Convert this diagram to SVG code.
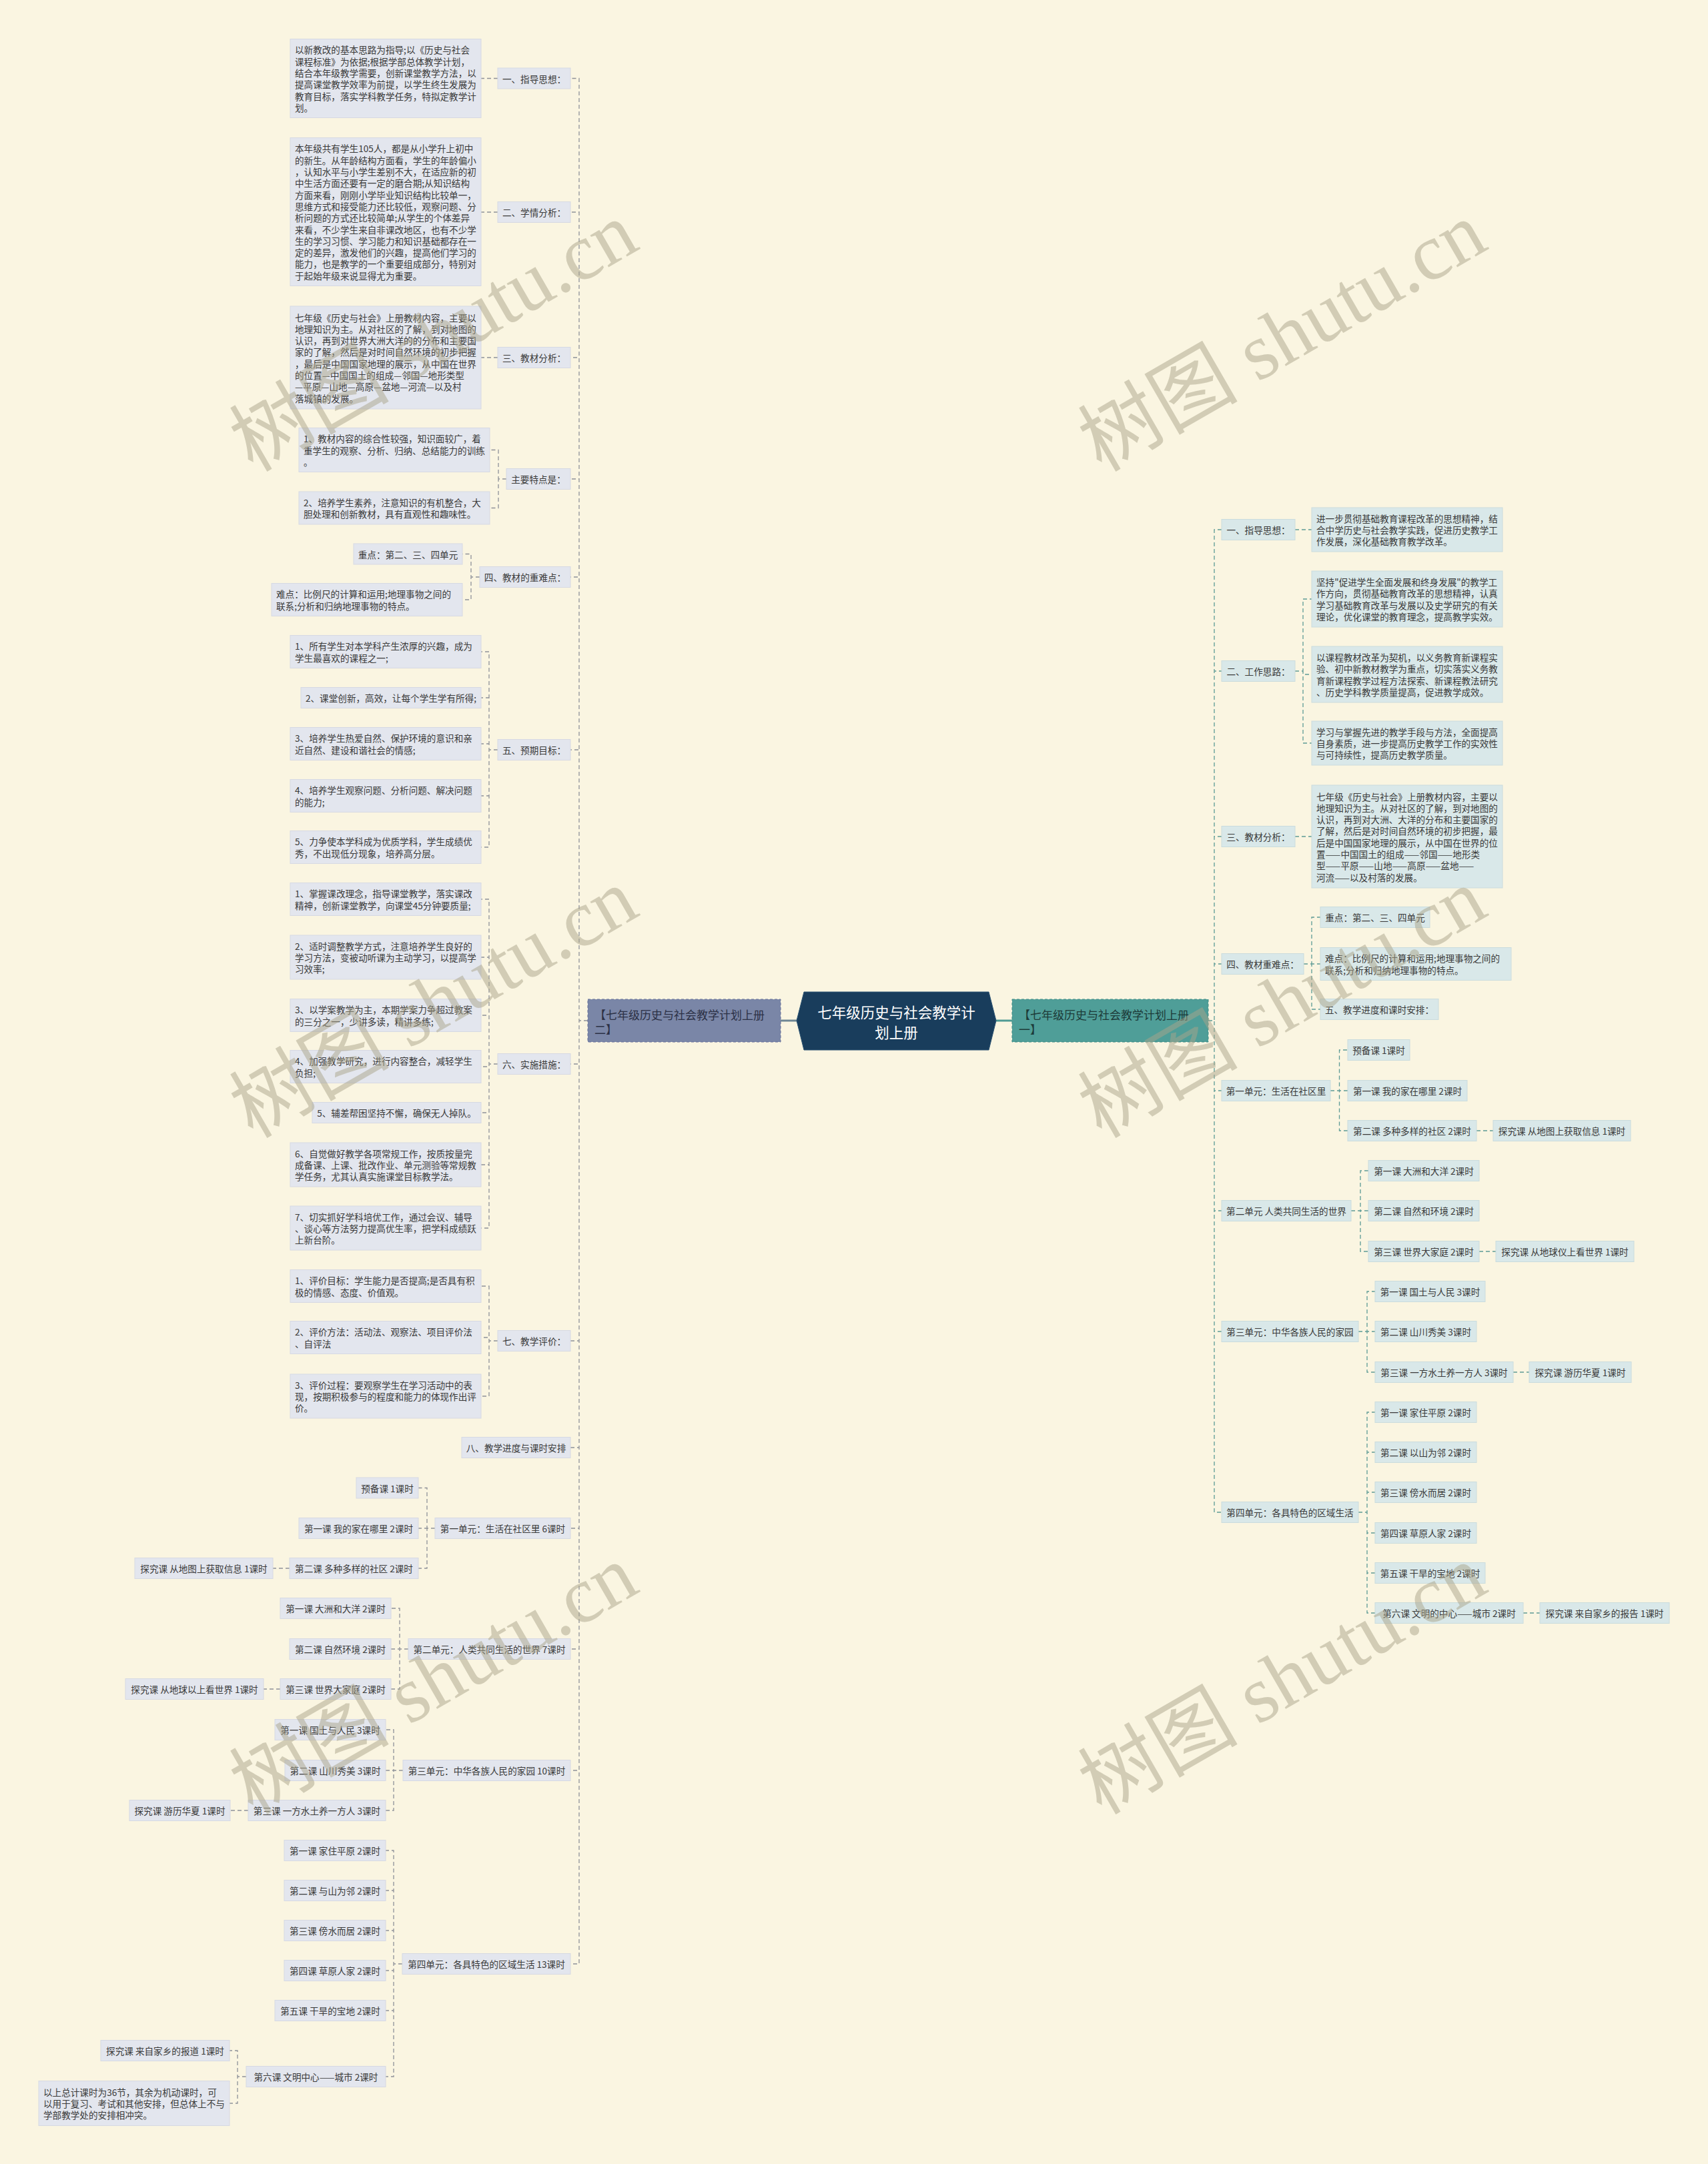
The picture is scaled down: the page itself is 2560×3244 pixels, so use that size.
<svg xmlns="http://www.w3.org/2000/svg" width="2560" height="3244" viewBox="0 0 2560 3244">
<style>
.lb{fill:#e3e6ee;stroke:#d6d9e3;stroke-width:1}
.rb{fill:#d9e8e9;stroke:#cadcdd;stroke-width:1}
.t{font-family:"Noto Sans CJK SC","Noto Sans",sans-serif;font-size:13.6px;fill:#3a3a3a;dominant-baseline:central}
.m{text-anchor:middle}
.lc{fill:none;stroke:#8f9199;stroke-width:1.3;stroke-dasharray:6 4}
.rc{fill:none;stroke:#5d9a95;stroke-width:1.3;stroke-dasharray:6 4}
.mt{font-family:"Noto Sans CJK SC","Noto Sans",sans-serif;font-size:17px;dominant-baseline:central}
.wm{font-family:"Liberation Serif","Noto Sans CJK SC",serif;font-size:120px;fill:#a9a48a;fill-opacity:0.5;text-anchor:middle;dominant-baseline:central}
</style>
<rect x="0" y="0" width="2560" height="3244" fill="#faf5e1"/>

<g id="connectors">
<path class="lc" d="M881,1530 H868 V117.5 H855 M881,1530 H868 V318 H855 M881,1530 H868 V536 H855 M881,1530 H868 V718 H855 M881,1530 H868 V865 H855 M881,1530 H868 V1124 H855 M881,1530 H868 V1595 H855 M881,1530 H868 V2010 H855 M881,1530 H868 V2170 H855 M881,1530 H868 V2291 H855 M881,1530 H868 V2472 H855 M881,1530 H868 V2654 H855 M881,1530 H868 V2944 H855"/>
<path class="lc" d="M746,117.5 H721 M746,318 H721 M746,536 H721"/>
<path class="lc" d="M759,718 H747 V674.5 H734 M759,718 H747 V761.5 H734"/>
<path class="lc" d="M719,865 H706 V830.5 H693 M719,865 H706 V899 H693"/>
<path class="lc" d="M746,1124 H733 V977 H721 M746,1124 H733 V1046 H721 M746,1124 H733 V1115 H721 M746,1124 H733 V1193 H721 M746,1124 H733 V1270 H721"/>
<path class="lc" d="M746,1595 H733 V1348 H721 M746,1595 H733 V1435 H721 M746,1595 H733 V1522 H721 M746,1595 H733 V1599 H721 M746,1595 H733 V1668 H721 M746,1595 H733 V1746 H721 M746,1595 H733 V1841 H721"/>
<path class="lc" d="M746,2010 H733 V1928 H721 M746,2010 H733 V2005 H721 M746,2010 H733 V2093 H721"/>
<path class="lc" d="M652,2291 H640 V2230.5 H627 M652,2291 H640 V2291 H627 M652,2291 H640 V2351 H627 M434,2351 H409"/>
<path class="lc" d="M612,2472 H599 V2411 H586 M612,2472 H599 V2472 H586 M612,2472 H599 V2532 H586 M420,2532 H395"/>
<path class="lc" d="M604,2654 H590 V2593 H578 M604,2654 H590 V2654 H578 M604,2654 H590 V2714 H578 M372,2714 H345"/>
<path class="lc" d="M603,2944 H590 V2774 H578 M603,2944 H590 V2834 H578 M603,2944 H590 V2894 H578 M603,2944 H590 V2954 H578 M603,2944 H590 V3014 H578 M603,2944 H590 V3113 H578"/>
<path class="lc" d="M369,3113 H356 V3074 H344 M369,3113 H356 V3153 H344"/>
<path class="rc" d="M1811,1530 H1820 V794 H1831 M1811,1530 H1820 V1006 H1831 M1811,1530 H1820 V1254 H1831 M1811,1530 H1820 V1445 H1831 M1811,1530 H1820 V1635 H1831 M1811,1530 H1820 V1815 H1831 M1811,1530 H1820 V1996 H1831 M1811,1530 H1820 V2267 H1831"/>
<path class="rc" d="M1941,794 H1966 M1941,1254 H1966"/>
<path class="rc" d="M1941,1006 H1953 V898 H1966 M1941,1006 H1953 V1011 H1966 M1941,1006 H1953 V1114 H1966"/>
<path class="rc" d="M1954,1445 H1966 V1375 H1979 M1954,1445 H1966 V1445 H1979 M1954,1445 H1966 V1513 H1979"/>
<path class="rc" d="M1994,1635 H2007.5 V1574 H2020 M1994,1635 H2007.5 V1635 H2020 M1994,1635 H2007.5 V1695 H2020 M2213,1695 H2238"/>
<path class="rc" d="M2025,1815 H2039 V1755 H2051 M2025,1815 H2039 V1815 H2051 M2025,1815 H2039 V1876 H2051 M2217,1876 H2242"/>
<path class="rc" d="M2036,1996 H2049 V1936 H2061 M2036,1996 H2049 V1996 H2061 M2036,1996 H2049 V2057 H2061 M2268,2057 H2292"/>
<path class="rc" d="M2036,2267 H2049 V2117 H2061 M2036,2267 H2049 V2177 H2061 M2036,2267 H2049 V2237 H2061 M2036,2267 H2049 V2298 H2061 M2036,2267 H2049 V2358 H2061 M2036,2267 H2049 V2418 H2061 M2283,2418 H2308"/>
<path d="M1170,1530 H1194" stroke="#6f8795" stroke-width="3" fill="none"/>
<path d="M1493,1530 H1517" stroke="#4f9a94" stroke-width="3" fill="none"/>
</g>

<g id="root"><polygon points="1205,1487 1482,1487 1493,1530 1482,1574 1205,1574 1194,1530" fill="#193d5c" stroke="#2b5373" stroke-width="1"/>
<text class="mt m" x="1343.5" y="1516" style="font-size:21.5px;fill:#ffffff">七年级历史与社会教学计</text>
<text class="mt m" x="1343.5" y="1546" style="font-size:21.5px;fill:#ffffff">划上册</text></g>

<g id="main-left"><rect x="881" y="1498" width="289" height="64" fill="#7a86a7" stroke="#66719a" stroke-dasharray="4 3"/>
<text class="mt" x="891" y="1520" fill="#2c3146">【七年级历史与社会教学计划上册</text>
<text class="mt" x="891" y="1542" fill="#2c3146">二】</text></g>

<g id="main-right"><rect x="1517" y="1498" width="294" height="64" fill="#4f9e98" stroke="#3f8b85" stroke-dasharray="4 3"/>
<text class="mt" x="1527" y="1520" fill="#1d3b39">【七年级历史与社会教学计划上册</text>
<text class="mt" x="1527" y="1542" fill="#1d3b39">一】</text></g>

<g id="l1"><rect class="lb" x="746" y="102" width="109" height="31"/><text class="t m" x="800.5" y="117.5">一、指导思想：</text></g>
<g id="l2"><rect class="lb" x="746" y="302.5" width="109" height="31"/><text class="t m" x="800.5" y="318">二、学情分析：</text></g>
<g id="l3"><rect class="lb" x="746" y="520.5" width="109" height="31"/><text class="t m" x="800.5" y="536">三、教材分析：</text></g>
<g id="l4"><rect class="lb" x="759" y="702.5" width="96" height="31"/><text class="t m" x="807" y="718">主要特点是：</text></g>
<g id="l5"><rect class="lb" x="719" y="849.5" width="136" height="31"/><text class="t m" x="787" y="865">四、教材的重难点：</text></g>
<g id="l6"><rect class="lb" x="746" y="1108.5" width="109" height="31"/><text class="t m" x="800.5" y="1124">五、预期目标：</text></g>
<g id="l7"><rect class="lb" x="746" y="1579.5" width="109" height="31"/><text class="t m" x="800.5" y="1595">六、实施措施：</text></g>
<g id="l8"><rect class="lb" x="746" y="1994.5" width="109" height="31"/><text class="t m" x="800.5" y="2010">七、教学评价：</text></g>
<g id="l9"><rect class="lb" x="692" y="2154.5" width="163" height="31"/><text class="t m" x="773.5" y="2170">八、教学进度与课时安排</text></g>
<g id="l10"><rect class="lb" x="652" y="2275.5" width="203" height="31"/><text class="t m" x="753.5" y="2291">第一单元：生活在社区里 6课时</text></g>
<g id="l11"><rect class="lb" x="612" y="2456.5" width="243" height="31"/><text class="t m" x="733.5" y="2472">第二单元：人类共同生活的世界 7课时</text></g>
<g id="l12"><rect class="lb" x="604" y="2638.5" width="251" height="31"/><text class="t m" x="729.5" y="2654">第三单元：中华各族人民的家园 10课时</text></g>
<g id="l13"><rect class="lb" x="603" y="2928.5" width="252" height="31"/><text class="t m" x="729" y="2944">第四单元：各具特色的区域生活 13课时</text></g>

<g id="l1-a"><rect class="lb" x="435" y="58.5" width="286" height="118"/>
<text class="t" x="442"><tspan x="442" y="74.3">以新教改的基本思路为指导;以《历史与社会</tspan><tspan x="442" y="91.6">课程标准》为依据;根据学部总体教学计划，</tspan><tspan x="442" y="108.9">结合本年级教学需要，创新课堂教学方法，以</tspan><tspan x="442" y="126.2">提高课堂教学效率为前提，以学生终生发展为</tspan><tspan x="442" y="143.5">教育目标，落实学科教学任务，特拟定教学计</tspan><tspan x="442" y="160.8">划。</tspan></text></g>
<g id="l2-a"><rect class="lb" x="435" y="206.5" width="286" height="222"/>
<text class="t"><tspan x="442" y="222.4">本年级共有学生105人，都是从小学升上初中</tspan><tspan x="442" y="239.7">的新生。从年龄结构方面看，学生的年龄偏小</tspan><tspan x="442" y="257">，认知水平与小学生差别不大，在适应新的初</tspan><tspan x="442" y="274.3">中生活方面还要有一定的磨合期;从知识结构</tspan><tspan x="442" y="291.6">方面来看，刚刚小学毕业知识结构比较单一，</tspan><tspan x="442" y="308.9">思维方式和接受能力还比较低，观察问题、分</tspan><tspan x="442" y="326.2">析问题的方式还比较简单;从学生的个体差异</tspan><tspan x="442" y="343.5">来看，不少学生来自非课改地区，也有不少学</tspan><tspan x="442" y="360.8">生的学习习惯、学习能力和知识基础都存在一</tspan><tspan x="442" y="378.1">定的差异，激发他们的兴趣，提高他们学习的</tspan><tspan x="442" y="395.4">能力，也是教学的一个重要组成部分，特别对</tspan><tspan x="442" y="412.7">于起始年级来说显得尤为重要。</tspan></text></g>
<g id="l3-a"><rect class="lb" x="435" y="459" width="286" height="154"/>
<text class="t"><tspan x="442" y="475.5">七年级《历史与社会》上册教材内容，主要以</tspan><tspan x="442" y="492.8">地理知识为主。从对社区的了解，到对地图的</tspan><tspan x="442" y="510.1">认识，再到对世界大洲大洋的的分布和主要国</tspan><tspan x="442" y="527.4">家的了解，然后是对时间自然环境的初步把握</tspan><tspan x="442" y="544.7">，最后是中国国家地理的展示，从中国在世界</tspan><tspan x="442" y="562">的位置—中国国土的组成—邻国—地形类型</tspan><tspan x="442" y="579.3">—平原—山地—高原—盆地—河流—以及村</tspan><tspan x="442" y="596.6">落城镇的发展。</tspan></text></g>
<g id="l4-a"><rect class="lb" x="448" y="641.5" width="286" height="66"/>
<text class="t"><tspan x="455" y="657.2">1、教材内容的综合性较强，知识面较广，着</tspan><tspan x="455" y="674.5">重学生的观察、分析、归纳、总结能力的训练</tspan><tspan x="455" y="691.8">。</tspan></text></g>
<g id="l4-b"><rect class="lb" x="448" y="737" width="286" height="49"/>
<text class="t"><tspan x="455" y="752.9">2、培养学生素养，注意知识的有机整合，大</tspan><tspan x="455" y="770.2">胆处理和创新教材，具有直观性和趣味性。</tspan></text></g>
<g id="l5-a"><rect class="lb" x="530" y="815" width="163" height="31"/><text class="t m" x="611.5" y="830.5">重点：第二、三、四单元</text></g>
<g id="l5-b"><rect class="lb" x="407" y="874.5" width="286" height="49"/>
<text class="t"><tspan x="414" y="890.4">难点：比例尺的计算和运用;地理事物之间的</tspan><tspan x="414" y="907.7">联系;分析和归纳地理事物的特点。</tspan></text></g>
<g id="l6-a"><rect class="lb" x="435" y="952.5" width="286" height="49"/>
<text class="t"><tspan x="442" y="968.4">1、所有学生对本学科产生浓厚的兴趣，成为</tspan><tspan x="442" y="985.7">学生最喜欢的课程之一;</tspan></text></g>
<g id="l6-b"><rect class="lb" x="451" y="1030.5" width="270" height="31"/><text class="t m" x="586" y="1046">2、课堂创新，高效，让每个学生学有所得;</text></g>
<g id="l6-c"><rect class="lb" x="435" y="1090.5" width="286" height="49"/>
<text class="t"><tspan x="442" y="1106.4">3、培养学生热爱自然、保护环境的意识和亲</tspan><tspan x="442" y="1123.7">近自然、建设和谐社会的情感;</tspan></text></g>
<g id="l6-d"><rect class="lb" x="435" y="1168.5" width="286" height="49"/>
<text class="t"><tspan x="442" y="1184.4">4、培养学生观察问题、分析问题、解决问题</tspan><tspan x="442" y="1201.7">的能力;</tspan></text></g>
<g id="l6-e"><rect class="lb" x="435" y="1245.5" width="286" height="49"/>
<text class="t"><tspan x="442" y="1261.4">5、力争使本学科成为优质学科，学生成绩优</tspan><tspan x="442" y="1278.7">秀，不出现低分现象，培养高分层。</tspan></text></g>
<g id="l7-a"><rect class="lb" x="435" y="1323.5" width="286" height="49"/>
<text class="t"><tspan x="442" y="1339.4">1、掌握课改理念，指导课堂教学，落实课改</tspan><tspan x="442" y="1356.7">精神，创新课堂教学，向课堂45分钟要质量;</tspan></text></g>
<g id="l7-b"><rect class="lb" x="435" y="1402" width="286" height="66"/>
<text class="t"><tspan x="442" y="1417.7">2、适时调整教学方式，注意培养学生良好的</tspan><tspan x="442" y="1435">学习方法，变被动听课为主动学习，以提高学</tspan><tspan x="442" y="1452.3">习效率;</tspan></text></g>
<g id="l7-c"><rect class="lb" x="435" y="1497.5" width="286" height="49"/>
<text class="t"><tspan x="442" y="1513.4">3、以学案教学为主，本期学案力争超过教案</tspan><tspan x="442" y="1530.7">的三分之一，少讲多读，精讲多练;</tspan></text></g>
<g id="l7-d"><rect class="lb" x="435" y="1574.5" width="286" height="49"/>
<text class="t"><tspan x="442" y="1590.4">4、加强教学研究，进行内容整合，减轻学生</tspan><tspan x="442" y="1607.7">负担;</tspan></text></g>
<g id="l7-e"><rect class="lb" x="468" y="1652.5" width="253" height="31"/><text class="t m" x="594.5" y="1668">5、辅差帮困坚持不懈，确保无人掉队。</text></g>
<g id="l7-f"><rect class="lb" x="435" y="1713" width="286" height="66"/>
<text class="t"><tspan x="442" y="1728.7">6、自觉做好教学各项常规工作，按质按量完</tspan><tspan x="442" y="1746">成备课、上课、批改作业、单元测验等常规教</tspan><tspan x="442" y="1763.3">学任务，尤其认真实施课堂目标教学法。</tspan></text></g>
<g id="l7-g"><rect class="lb" x="435" y="1808" width="286" height="66"/>
<text class="t"><tspan x="442" y="1823.7">7、切实抓好学科培优工作，通过会议、辅导</tspan><tspan x="442" y="1841">、谈心等方法努力提高优生率，把学科成绩跃</tspan><tspan x="442" y="1858.3">上新台阶。</tspan></text></g>
<g id="l8-a"><rect class="lb" x="435" y="1903.5" width="286" height="49"/>
<text class="t"><tspan x="442" y="1919.4">1、评价目标：学生能力是否提高;是否具有积</tspan><tspan x="442" y="1936.7">极的情感、态度、价值观。</tspan></text></g>
<g id="l8-b"><rect class="lb" x="435" y="1980.5" width="286" height="49"/>
<text class="t"><tspan x="442" y="1996.4">2、评价方法：活动法、观察法、项目评价法</tspan><tspan x="442" y="2013.7">、自评法</tspan></text></g>
<g id="l8-c"><rect class="lb" x="435" y="2060" width="286" height="66"/>
<text class="t"><tspan x="442" y="2075.7">3、评价过程：要观察学生在学习活动中的表</tspan><tspan x="442" y="2093">现，按期积极参与的程度和能力的体现作出评</tspan><tspan x="442" y="2110.3">价。</tspan></text></g>

<g id="l10-a"><rect class="lb" x="534" y="2215" width="93" height="31"/><text class="t m" x="580.5" y="2230.5">预备课 1课时</text></g>
<g id="l10-b"><rect class="lb" x="448" y="2275.5" width="179" height="31"/><text class="t m" x="537.5" y="2291">第一课 我的家在哪里 2课时</text></g>
<g id="l10-c"><rect class="lb" x="434" y="2335.5" width="193" height="31"/><text class="t m" x="530.5" y="2351">第二课 多种多样的社区 2课时</text></g>
<g id="l10-c1"><rect class="lb" x="202" y="2335.5" width="207" height="31"/><text class="t m" x="305.5" y="2351">探究课 从地图上获取信息 1课时</text></g>
<g id="l11-a"><rect class="lb" x="420" y="2395.5" width="166" height="31"/><text class="t m" x="503" y="2411">第一课 大洲和大洋 2课时</text></g>
<g id="l11-b"><rect class="lb" x="434" y="2456.5" width="152" height="31"/><text class="t m" x="510" y="2472">第二课 自然环境 2课时</text></g>
<g id="l11-c"><rect class="lb" x="420" y="2516.5" width="166" height="31"/><text class="t m" x="503" y="2532">第三课 世界大家庭 2课时</text></g>
<g id="l11-c1"><rect class="lb" x="188" y="2516.5" width="207" height="31"/><text class="t m" x="291.5" y="2532">探究课 从地球以上看世界 1课时</text></g>
<g id="l12-a"><rect class="lb" x="412" y="2577.5" width="166" height="31"/><text class="t m" x="495" y="2593">第一课 国土与人民 3课时</text></g>
<g id="l12-b"><rect class="lb" x="427" y="2638.5" width="151" height="31"/><text class="t m" x="502.5" y="2654">第二课 山川秀美 3课时</text></g>
<g id="l12-c"><rect class="lb" x="372" y="2698.5" width="206" height="31"/><text class="t m" x="475" y="2714">第三课 一方水土养一方人 3课时</text></g>
<g id="l12-c1"><rect class="lb" x="194" y="2698.5" width="151" height="31"/><text class="t m" x="269.5" y="2714">探究课 游历华夏 1课时</text></g>
<g id="l13-a"><rect class="lb" x="426" y="2758.5" width="152" height="31"/><text class="t m" x="502" y="2774">第一课 家住平原 2课时</text></g>
<g id="l13-b"><rect class="lb" x="426" y="2818.5" width="152" height="31"/><text class="t m" x="502" y="2834">第二课 与山为邻 2课时</text></g>
<g id="l13-c"><rect class="lb" x="426" y="2878.5" width="152" height="31"/><text class="t m" x="502" y="2894">第三课 傍水而居 2课时</text></g>
<g id="l13-d"><rect class="lb" x="426" y="2938.5" width="152" height="31"/><text class="t m" x="502" y="2954">第四课 草原人家 2课时</text></g>
<g id="l13-e"><rect class="lb" x="412" y="2998.5" width="166" height="31"/><text class="t m" x="495" y="3014">第五课 干旱的宝地 2课时</text></g>
<g id="l13-f"><rect class="lb" x="369" y="3097.5" width="209" height="31"/><text class="t m" x="473.5" y="3113">第六课 文明中心——城市 2课时</text></g>
<g id="l13-f1"><rect class="lb" x="151" y="3058.5" width="193" height="31"/><text class="t m" x="247.5" y="3074">探究课 来自家乡的报道 1课时</text></g>
<g id="l13-f2"><rect class="lb" x="58" y="3119.5" width="286" height="67"/>
<text class="t"><tspan x="65" y="3135.7">以上总计课时为36节，其余为机动课时，可</tspan><tspan x="65" y="3153">以用于复习、考试和其他安排，但总体上不与</tspan><tspan x="65" y="3170.3">学部教学处的安排相冲突。</tspan></text></g>

<g id="r1"><rect class="rb" x="1831" y="778.5" width="110" height="31"/><text class="t m" x="1886" y="794">一、指导思想：</text></g>
<g id="r2"><rect class="rb" x="1831" y="990.5" width="110" height="31"/><text class="t m" x="1886" y="1006">二、工作思路：</text></g>
<g id="r3"><rect class="rb" x="1831" y="1238.5" width="110" height="31"/><text class="t m" x="1886" y="1254">三、教材分析：</text></g>
<g id="r4"><rect class="rb" x="1831" y="1429.5" width="123" height="31"/><text class="t m" x="1892.5" y="1445">四、教材重难点：</text></g>
<g id="r5"><rect class="rb" x="1831" y="1619.5" width="163" height="31"/><text class="t m" x="1912.5" y="1635">第一单元：生活在社区里</text></g>
<g id="r6"><rect class="rb" x="1831" y="1799.5" width="194" height="31"/><text class="t m" x="1928" y="1815">第二单元 人类共同生活的世界</text></g>
<g id="r7"><rect class="rb" x="1831" y="1980.5" width="205" height="31"/><text class="t m" x="1933.5" y="1996">第三单元：中华各族人民的家园</text></g>
<g id="r8"><rect class="rb" x="1831" y="2251.5" width="205" height="31"/><text class="t m" x="1933.5" y="2267">第四单元：各具特色的区域生活</text></g>

<g id="r1-a"><rect class="rb" x="1966" y="761" width="286" height="66"/>
<text class="t"><tspan x="1973" y="776.7">进一步贯彻基础教育课程改革的思想精神，结</tspan><tspan x="1973" y="794">合中学历史与社会教学实践，促进历史教学工</tspan><tspan x="1973" y="811.3">作发展，深化基础教育教学改革。</tspan></text></g>
<g id="r2-a"><rect class="rb" x="1966" y="856" width="286" height="84"/>
<text class="t"><tspan x="1973" y="872.1">坚持"促进学生全面发展和终身发展"的教学工</tspan><tspan x="1973" y="889.4">作方向，贯彻基础教育改革的思想精神，认真</tspan><tspan x="1973" y="906.7">学习基础教育改革与发展以及史学研究的有关</tspan><tspan x="1973" y="924">理论，优化课堂的教育理念，提高教学实效。</tspan></text></g>
<g id="r2-b"><rect class="rb" x="1966" y="969" width="286" height="84"/>
<text class="t"><tspan x="1973" y="985.1">以课程教材改革为契机，以义务教育新课程实</tspan><tspan x="1973" y="1002.4">验、初中新教材教学为重点，切实落实义务教</tspan><tspan x="1973" y="1019.7">育新课程教学过程方法探索、新课程教法研究</tspan><tspan x="1973" y="1037">、历史学科教学质量提高，促进教学成效。</tspan></text></g>
<g id="r2-c"><rect class="rb" x="1966" y="1081" width="286" height="66"/>
<text class="t"><tspan x="1973" y="1096.7">学习与掌握先进的教学手段与方法，全面提高</tspan><tspan x="1973" y="1114">自身素质，进一步提高历史教学工作的实效性</tspan><tspan x="1973" y="1131.3">与可持续性，提高历史教学质量。</tspan></text></g>
<g id="r3-a"><rect class="rb" x="1966" y="1177" width="286" height="154"/>
<text class="t"><tspan x="1973" y="1193.5">七年级《历史与社会》上册教材内容，主要以</tspan><tspan x="1973" y="1210.8">地理知识为主。从对社区的了解，到对地图的</tspan><tspan x="1973" y="1228.1">认识，再到对大洲、大洋的分布和主要国家的</tspan><tspan x="1973" y="1245.4">了解，然后是对时间自然环境的初步把握，最</tspan><tspan x="1973" y="1262.7">后是中国国家地理的展示，从中国在世界的位</tspan><tspan x="1973" y="1280">置——中国国土的组成——邻国——地形类</tspan><tspan x="1973" y="1297.3">型——平原——山地——高原——盆地——</tspan><tspan x="1973" y="1314.6">河流——以及村落的发展。</tspan></text></g>
<g id="r4-a"><rect class="rb" x="1979" y="1359.5" width="164" height="31"/><text class="t m" x="2061" y="1375">重点：第二、三、四单元</text></g>
<g id="r4-b"><rect class="rb" x="1979" y="1420.5" width="286" height="49"/>
<text class="t"><tspan x="1986" y="1436.4">难点：比例尺的计算和运用;地理事物之间的</tspan><tspan x="1986" y="1453.7">联系;分析和归纳地理事物的特点。</tspan></text></g>
<g id="r4-c"><rect class="rb" x="1979" y="1497.5" width="177" height="31"/><text class="t m" x="2067.5" y="1513">五、教学进度和课时安排：</text></g>
<g id="r5-a"><rect class="rb" x="2020" y="1558.5" width="93" height="31"/><text class="t m" x="2066.5" y="1574">预备课 1课时</text></g>
<g id="r5-b"><rect class="rb" x="2020" y="1619.5" width="179" height="31"/><text class="t m" x="2109.5" y="1635">第一课 我的家在哪里 2课时</text></g>
<g id="r5-c"><rect class="rb" x="2020" y="1679.5" width="193" height="31"/><text class="t m" x="2116.5" y="1695">第二课 多种多样的社区 2课时</text></g>
<g id="r5-c1"><rect class="rb" x="2238" y="1679.5" width="206" height="31"/><text class="t m" x="2341" y="1695">探究课 从地图上获取信息 1课时</text></g>
<g id="r6-a"><rect class="rb" x="2051" y="1739.5" width="166" height="31"/><text class="t m" x="2134" y="1755">第一课 大洲和大洋 2课时</text></g>
<g id="r6-b"><rect class="rb" x="2051" y="1799.5" width="166" height="31"/><text class="t m" x="2134" y="1815">第二课 自然和环境 2课时</text></g>
<g id="r6-c"><rect class="rb" x="2051" y="1860.5" width="166" height="31"/><text class="t m" x="2134" y="1876">第三课 世界大家庭 2课时</text></g>
<g id="r6-c1"><rect class="rb" x="2242" y="1860.5" width="207" height="31"/><text class="t m" x="2345.5" y="1876">探究课 从地球仪上看世界 1课时</text></g>
<g id="r7-a"><rect class="rb" x="2061" y="1920.5" width="165" height="31"/><text class="t m" x="2143.5" y="1936">第一课 国土与人民 3课时</text></g>
<g id="r7-b"><rect class="rb" x="2061" y="1980.5" width="152" height="31"/><text class="t m" x="2137" y="1996">第二课 山川秀美 3课时</text></g>
<g id="r7-c"><rect class="rb" x="2061" y="2041.5" width="207" height="31"/><text class="t m" x="2164.5" y="2057">第三课 一方水土养一方人 3课时</text></g>
<g id="r7-c1"><rect class="rb" x="2292" y="2041.5" width="153" height="31"/><text class="t m" x="2368.5" y="2057">探究课 游历华夏 1课时</text></g>
<g id="r8-a"><rect class="rb" x="2061" y="2101.5" width="152" height="31"/><text class="t m" x="2137" y="2117">第一课 家住平原 2课时</text></g>
<g id="r8-b"><rect class="rb" x="2061" y="2161.5" width="152" height="31"/><text class="t m" x="2137" y="2177">第二课 以山为邻 2课时</text></g>
<g id="r8-c"><rect class="rb" x="2061" y="2221.5" width="152" height="31"/><text class="t m" x="2137" y="2237">第三课 傍水而居 2课时</text></g>
<g id="r8-d"><rect class="rb" x="2061" y="2282.5" width="152" height="31"/><text class="t m" x="2137" y="2298">第四课 草原人家 2课时</text></g>
<g id="r8-e"><rect class="rb" x="2061" y="2342.5" width="165" height="31"/><text class="t m" x="2143.5" y="2358">第五课 干旱的宝地 2课时</text></g>
<g id="r8-f"><rect class="rb" x="2061" y="2402.5" width="222" height="31"/><text class="t m" x="2172" y="2418">第六课 文明的中心——城市 2课时</text></g>
<g id="r8-f1"><rect class="rb" x="2308" y="2402.5" width="194" height="31"/><text class="t m" x="2405" y="2418">探究课 来自家乡的报告 1课时</text></g>

<g id="watermarks">
<text class="wm" transform="translate(650,505) rotate(-30)">树图 shutu.cn</text>
<text class="wm" transform="translate(1922,505) rotate(-30)">树图 shutu.cn</text>
<text class="wm" transform="translate(650,1504) rotate(-30)">树图 shutu.cn</text>
<text class="wm" transform="translate(1922,1504) rotate(-30)">树图 shutu.cn</text>
<text class="wm" transform="translate(650,2518) rotate(-30)">树图 shutu.cn</text>
<text class="wm" transform="translate(1922,2518) rotate(-30)">树图 shutu.cn</text>
</g>
</svg>
